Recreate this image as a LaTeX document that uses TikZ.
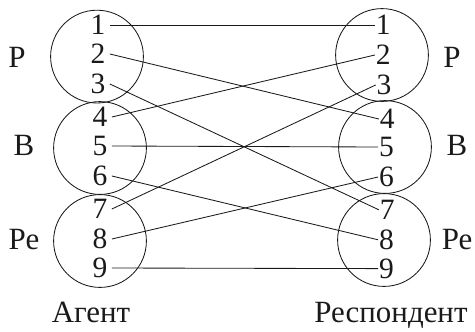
\documentclass[tikz,border=0pt]{standalone}
\usepackage{fontspec}
\setmainfont{Liberation Serif}
\usepackage{tikz}
\usetikzlibrary{positioning}
\definecolor{darkink}{HTML}{1A1A1A}
\tikzset{
  grp/.style={draw=darkink, line width=0.6pt, circle, minimum size=2.32cm, inner sep=0pt},
  lnum/.style={font=\fontsize{21}{23}\selectfont, text=darkink, inner sep=3pt},
  rnum/.style={font=\fontsize{21}{23}\selectfont, text=darkink, inner sep=0.5pt},
  side/.style={font=\fontsize{22}{24}\selectfont, text=darkink},
  link/.style={draw=darkink, line width=0.6pt}
}
\begin{document}
\begin{tikzpicture}
  \useasboundingbox (0,0) rectangle (11.875,8.275);
  % Agent circles
  \node[grp] (lp) at (2.425,6.86) {};
  \node[grp] (lb) at (2.5,4.575) {};
  \node[grp] (lr) at (2.5,2.25) {};
  % Respondent circles
  \node[grp] (rp) at (9.55,6.9) {};
  \node[grp] (rb) at (9.625,4.6) {};
  \node[grp] (rr) at (9.6,2.275) {};
  % Agent numbers
  \node[lnum] (l1) at (2.45,7.65) {1};
  \node[lnum] (l2) at (2.45,6.925) {2};
  \node[lnum] (l3) at (2.45,6.175) {3};
  \node[lnum] (l4) at (2.5,5.35) {4};
  \node[lnum] (l5) at (2.5,4.625) {5};
  \node[lnum] (l6) at (2.5,3.875) {6};
  \node[lnum] (l7) at (2.5,3.05) {7};
  \node[lnum] (l8) at (2.5,2.3) {8};
  \node[lnum] (l9) at (2.5,1.575) {9};
  % Respondent numbers
  \node[rnum] (r1) at (9.58,7.65) {1};
  \node[rnum] (r2) at (9.58,6.9) {2};
  \node[rnum] (r3) at (9.6,6.15) {3};
  \node[rnum] (r4) at (9.68,5.3) {4};
  \node[rnum] (r5) at (9.66,4.6) {5};
  \node[rnum] (r6) at (9.66,3.85) {6};
  \node[rnum] (r7) at (9.68,3.03) {7};
  \node[rnum] (r8) at (9.66,2.28) {8};
  \node[rnum] (r9) at (9.66,1.56) {9};
  % links
  \draw[link] (l1.east) -- (r1.west);
  \draw[link] (l2.east) -- (r4.west);
  \draw[link] (l3.east) -- (r7.west);
  \draw[link] (l4.east) -- (r2.west);
  \draw[link] (l5.east) -- (r5.west);
  \draw[link] (l6.east) -- (r8.west);
  \draw[link] (l7.east) -- (r3.west);
  \draw[link] (l8.east) -- (r6.west);
  \draw[link] (l9.east) -- (r9.west);
  % side labels
  \node[side] (lpt) at (0.425,6.85) {Р};
  \node[side] (lbt) at (0.6,4.65) {В};
  \node[side] (lrt) at (0.6,2.275) {Ре};
  \node[side] (rpt) at (11.3,6.85) {Р};
  \node[side] (rbt) at (11.425,4.65) {В};
  \node[side] (rrt) at (11.425,2.275) {Ре};
  \node[side, anchor=base] (agent) at (2.275,0.22) {Агент};
  \node[side, anchor=base] (resp) at (9.775,0.22) {Респондент};
\end{tikzpicture}
\end{document}
